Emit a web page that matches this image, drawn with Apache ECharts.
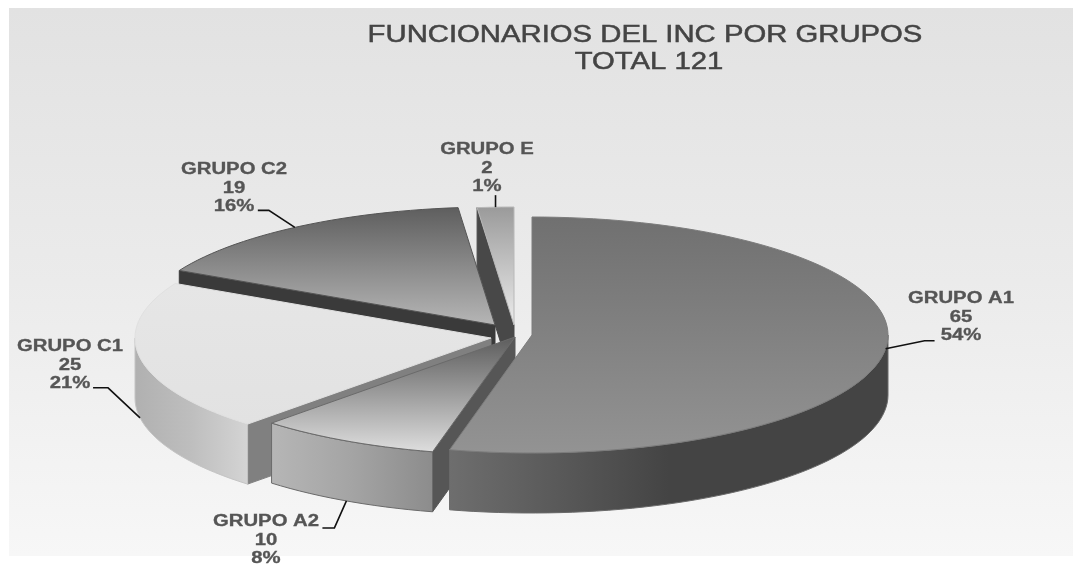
<!DOCTYPE html>
<html>
<head>
<meta charset="utf-8">
<style>html,body{margin:0;padding:0;background:#fff}#c{width:1073px;height:568px}</style>
<script src="https://cdn.jsdelivr.net/npm/echarts@6/dist/echarts.min.js"></script>
</head>
<body>
<div id="c"></div>
<script>
// ---- data ----
const categories = ['GRUPO A1', 'GRUPO A2', 'GRUPO C1', 'GRUPO C2', 'GRUPO E'];
const values = [65, 10, 25, 19, 2];
const percentLabels = ['54%', '8%', '21%', '16%', '1%'];
const titleLines = ['FUNCIONARIOS DEL INC POR GRUPOS', 'TOTAL 121'];

// ---- projection of the tilted pie ----
const RX = 356, RY = 118, DEPTH = 60;
const apexes = [[532, 335], [515, 337], [491, 338], [495, 325], [514, 325]]; // exploded slice apexes
const drawOrder = [4, 3, 2, 1, 0]; // index in draw order, back to front

// ---- slice styles ----
const faceStops = [['#707070', '#939393'], ['#5c5c5c', '#dedede'], ['#e6e6e6', '#e2e2e2'], ['#5e5e5e', '#b6b6b6'], ['#9a9a9a', '#ececec']];
const wallStops = [['#6e6e6e', '#444444', '#444444'], ['#b6b6b6', '#a4a4a4', '#8c8c8c'], ['#b0b0b0', '#bebebe', '#d4d4d4'], ['#3a3a3a', '#3a3a3a', '#3a3a3a'], ['#484848', '#484848', '#484848']];
const cutColors = ['#555555', '#565656', '#808080', '#3a3a3a', '#484848'];
const faceEdges = ['#7c7c7c', '#6a6a6a', '#e0e0e0', '#555555', '#b8b8b8'];
const wallEdges = ['#6a6a6a', '#6a6a6a', '#c4c4c4', '#3a3a3a', '#484848'];

// ---- label layout: text centre, leader elbow offsets from the rim anchor ----
const labelCentres = [[961, 298.5], [266, 521.5], [70, 346.5], [234, 169.5], [487, 149.5]];
const leaderOffsets = [[[39, -8], [49, -8]], [[-12, 27], [-24, 27]], [[-32, -30], [-47, -30]], [[-26, -17], [-37, -17]], [[0, -12]]];
const LINE_STEP = 18.6;
const TEXT_STRETCH = 1.27;
const TITLE_STRETCH = 1.22;
const TITLE_LINE_Y = [35, 62];

const total = values.reduce((a, b) => a + b, 0);
const starts = [];
values.reduce((acc, v, i) => { starts[i] = acc; return acc + v / total * 360; }, 0);

function rim(i, deg) {
  const r = deg * Math.PI / 180;
  return [apexes[i][0] + RX * Math.sin(r), apexes[i][1] - RY * Math.cos(r)];
}
function arc(i, a0, a1) {
  const pts = [], n = Math.max(2, Math.ceil((a1 - a0) / 2));
  for (let k = 0; k <= n; k++) pts.push(rim(i, a0 + (a1 - a0) * k / n));
  return pts;
}
const down = p => [p[0], p[1] + DEPTH];
const grad = (x2, y2, cols) => new echarts.graphic.LinearGradient(0, 0, x2, y2,
  cols.map((c, k) => ({ offset: k / (cols.length - 1), color: c })));

function renderItem(params) {
  const i = params.dataIndex;
  const a0 = starts[i], a1 = a0 + values[i] / total * 360;
  const apex = apexes[i];
  const z = drawOrder.indexOf(i) * 10;
  const children = [];
  const startRad = a0 * Math.PI / 180;
  // start cut faces the viewer when the start angle is on the left half
  if (Math.sin(startRad) < -1e-6) {
    const r = rim(i, a0);
    children.push({ type: 'polygon', z2: z + 1, shape: { points: [apex, r, down(r), down(apex)] },
      style: { fill: cutColors[i], stroke: cutColors[i], lineWidth: 1 } });
  }
  // outer wall, only where the rim faces the viewer
  const w0 = Math.max(a0, 90), w1 = Math.min(a1, 270);
  if (w1 > w0) {
    const top = arc(i, w0, w1);
    children.push({ type: 'polygon', z2: z + 2, shape: { points: top.concat(top.map(down).reverse()) },
      style: { fill: grad(1, 0, wallStops[i]), stroke: wallEdges[i], lineWidth: 1 } });
  }
  // top face
  children.push({ type: 'polygon', z2: z + 3, shape: { points: [apex].concat(arc(i, a0, a1)) },
    style: { fill: grad(0, 1, faceStops[i]), stroke: faceEdges[i], lineWidth: 1 } });
  return { type: 'group', children };
}

function renderLabel(params) {
  const i = params.dataIndex;
  const mid = starts[i] + values[i] / total * 180;
  let anchor = rim(i, mid);
  if (Math.cos(mid * Math.PI / 180) < -0.15) anchor = down(anchor);
  const pts = [anchor].concat(leaderOffsets[i].map(o => [anchor[0] + o[0], anchor[1] + o[1]]));
  const lines = [categories[i], String(values[i]), percentLabels[i]];
  const children = [{ type: 'polyline', z2: 100, shape: { points: pts }, style: { stroke: '#111111', lineWidth: 1.6, fill: null } }];
  lines.forEach((t, k) => children.push({
    type: 'text', z2: 101, x: labelCentres[i][0], y: labelCentres[i][1] + k * LINE_STEP, scaleX: TEXT_STRETCH,
    style: { text: t, x: 0, y: 0, textAlign: 'center', textVerticalAlign: 'middle', fill: '#555555', stroke: '#555555', lineWidth: 0.3,
      font: 'bold 16px "Liberation Sans", Arial, sans-serif' }
  }));
  return { type: 'group', children };
}

const chart = echarts.init(document.getElementById('c'), null, { renderer: 'canvas' });
chart.setOption({
  animation: false,
  backgroundColor: '#ffffff',
  graphic: [{
    type: 'rect', z: -10, silent: true, shape: { x: 9, y: 8, width: 1064, height: 548 },
    style: { fill: new echarts.graphic.LinearGradient(0, 0, 0, 1, [
      { offset: 0, color: '#e2e2e2' }, { offset: 0.5, color: '#ebebeb' }, { offset: 1, color: '#f7f7f7' }]) }
  }].concat(titleLines.map((t, k) => ({
    type: 'text', z: 10, silent: true, x: k === 0 ? 645 : 649, y: TITLE_LINE_Y[k], scaleX: TITLE_STRETCH,
    style: { text: t, x: 0, y: 0, textAlign: 'center', textVerticalAlign: 'middle', fill: '#444444', stroke: '#444444', lineWidth: 0.5,
      font: '24px "Liberation Sans", Arial, sans-serif' }
  }))),
  series: [
    { type: 'custom', coordinateSystem: 'none', silent: true, clip: false, renderItem, data: values.map((v, i) => [i, v]) },
    { type: 'custom', coordinateSystem: 'none', silent: true, clip: false, renderItem: renderLabel, data: values.map((v, i) => [i, v]) }
  ]
});
</script>
</body>
</html>
